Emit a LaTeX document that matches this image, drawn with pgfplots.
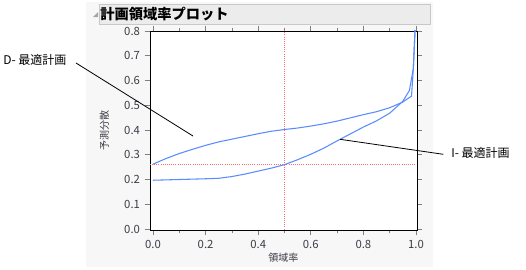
\documentclass[border=0pt]{standalone}
\usepackage{pgfplots}
\pgfplotsset{compat=1.18}
\usepackage{fontspec}
\setmainfont{Noto Sans CJK JP}
\definecolor{curve}{RGB}{90,140,255}
\definecolor{refred}{RGB}{255,110,110}
\definecolor{panel}{RGB}{247,247,247}
\definecolor{header}{RGB}{236,236,236}
\definecolor{hborder}{RGB}{200,200,200}
\definecolor{ticktext}{RGB}{60,60,70}
\begin{document}
\begin{tikzpicture}[x=0.75pt,y=0.75pt]
\path[use as bounding box] (0,0) rectangle (526,269);
\fill[panel] (86,2) rectangle (433,267);
\filldraw[fill=header,draw=hborder,line width=0.5pt] (99,245) rectangle (430,265);
\fill[gray!70] (93,252) -- (98,257) -- (98,252) -- cycle;
\node[anchor=west,inner sep=0pt,font=\fontsize{10.7pt}{12pt}\selectfont\bfseries] at (100,255) {計画領域率プロット};
\begin{axis}[
  at={(112.5pt,29.25pt)}, anchor=south west,
  scale only axis, width=200.25pt, height=149.25pt,
  xmin=-0.0114, xmax=1.0038, ymin=-0.004, ymax=0.8,
  axis background/.style={fill=white},
  axis line style={black, line width=0.6pt},
  xtick={0,0.2,0.4,0.6,0.8,1.0},
  minor xtick={0.1,0.3,0.5,0.7,0.9},
  ytick={0,0.1,0.2,0.3,0.4,0.5,0.6,0.7,0.8},
  tick align=outside,
  tick style={gray, line width=0.5pt},
  major tick length=4pt, minor tick length=2.5pt,
  xticklabel style={/pgf/number format/.cd, fixed, fixed zerofill, precision=1, assume math mode=true},
  yticklabel style={/pgf/number format/.cd, fixed, fixed zerofill, precision=1, assume math mode=true},
  ticklabel style={font=\fontsize{8.5pt}{10pt}\selectfont, text=ticktext},
  xlabel={領域率}, ylabel={予測分散},
  label style={font=\fontsize{7.5pt}{9pt}\selectfont, text=ticktext},
  xlabel style={yshift=3pt},
  ylabel style={yshift=4.5pt},
  clip=true,
]
\addplot[refred, densely dotted, line width=0.6pt] coordinates {(0.5,-0.01) (0.5,0.81)};
\addplot[refred, densely dotted, line width=0.6pt] coordinates {(-0.02,0.26) (1.01,0.26)};
\addplot[curve, line width=0.8pt] coordinates {
(0,0.262) (0.05,0.285) (0.1,0.305) (0.15,0.322) (0.2,0.338) (0.25,0.352) (0.3,0.363) (0.35,0.374) (0.4,0.385) (0.45,0.395) (0.5,0.402) (0.55,0.408) (0.6,0.416) (0.65,0.425) (0.7,0.436) (0.75,0.449) (0.8,0.462) (0.85,0.474) (0.9,0.49) (0.95,0.513) (0.983,0.537) (0.99,0.65) (0.997,0.82)};
\addplot[curve, line width=0.8pt] coordinates {
(0,0.197) (0.1,0.2) (0.2,0.203) (0.25,0.205) (0.3,0.212) (0.35,0.222) (0.4,0.234) (0.45,0.246) (0.5,0.26) (0.55,0.28) (0.6,0.302) (0.65,0.327) (0.7,0.356) (0.75,0.384) (0.8,0.412) (0.85,0.437) (0.9,0.468) (0.95,0.516) (0.975,0.56) (0.99,0.65) (0.997,0.82)};
\end{axis}
\draw[black, line width=0.6pt] (76,206) -- (193,133);
\draw[black, line width=0.6pt] (340,129.7) -- (443.3,114.7);
\node[anchor=west,inner sep=0pt,font=\fontsize{9pt}{11pt}\selectfont] at (3,209) {D- 最適計画};
\node[anchor=west,inner sep=0pt,font=\fontsize{9pt}{11pt}\selectfont] at (451,116) {I- 最適計画};
\end{tikzpicture}
\end{document}
